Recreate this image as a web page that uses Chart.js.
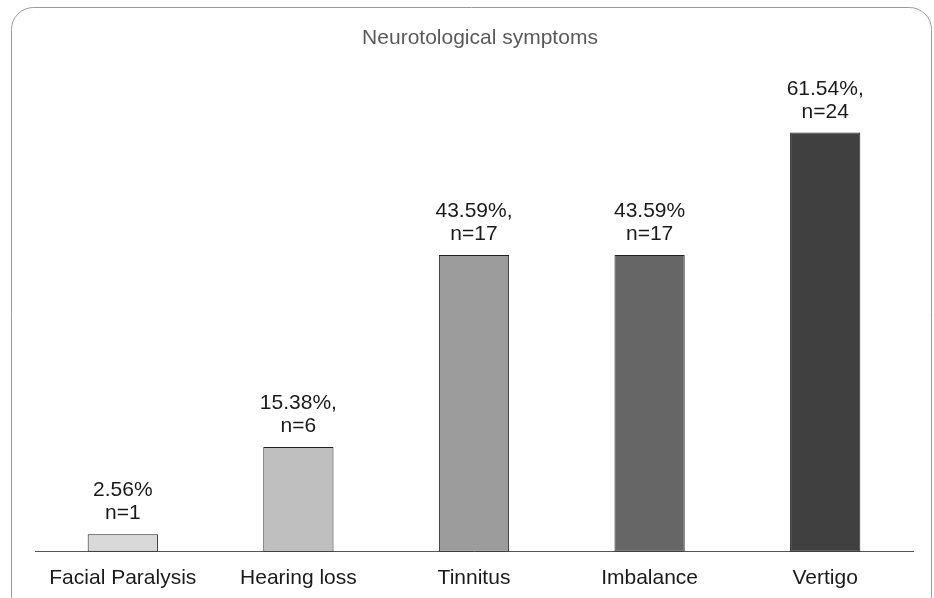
<!DOCTYPE html>
<html>
<head>
<meta charset="utf-8">
<script src="https://cdn.jsdelivr.net/npm/chart.js@4/dist/chart.umd.min.js"></script>
<style>
html,body{margin:0;padding:0;background:#fff;}
#wrap{width:934px;height:598px;position:relative;}
</style>
</head>
<body>
<div id="wrap"><canvas id="c" width="934" height="598"></canvas></div>
<script>
const chartTitle = "Neurotological symptoms";
const categories = ["Facial Paralysis", "Hearing loss", "Tinnitus", "Imbalance", "Vertigo"];
const percentages = [2.56, 15.38, 43.59, 43.59, 61.54];
const counts = [1, 6, 17, 17, 24];
const pctLabels = ["2.56%", "15.38%,", "43.59%,", "43.59%", "61.54%,"];
const barColors = ["#d9d9d9", "#bfbfbf", "#9c9c9c", "#666666", "#404040"];

const FONT = "'Liberation Sans', Arial, sans-serif";

const framePlugin = {
  id: 'frame',
  beforeDraw(chart) {
    const ctx = chart.ctx;
    ctx.save();
    ctx.strokeStyle = '#9a9a9a';
    ctx.lineWidth = 1;
    ctx.beginPath();
    ctx.roundRect(11.5, 7.5, 920, 610, 22);
    ctx.stroke();
    ctx.font = "21px " + FONT;
    ctx.fillStyle = '#5a5a5a';
    ctx.textAlign = 'center';
    ctx.textBaseline = 'alphabetic';
    ctx.fillText(chartTitle, 480, 44);
    ctx.restore();
  }
};

const labelPlugin = {
  id: 'barLabels',
  afterDatasetsDraw(chart) {
    const ctx = chart.ctx;
    const meta = chart.getDatasetMeta(0);
    ctx.save();
    ctx.font = "21px " + FONT;
    ctx.fillStyle = '#1a1a1a';
    ctx.textAlign = 'center';
    ctx.textBaseline = 'alphabetic';
    meta.data.forEach((bar, i) => {
      ctx.fillText(pctLabels[i], bar.x, bar.y - 38);
      ctx.fillText('n=' + counts[i], bar.x, bar.y - 15);
    });
    ctx.restore();
  }
};

new Chart(document.getElementById('c'), {
  type: 'bar',
  data: {
    labels: categories,
    datasets: [{
      data: percentages,
      backgroundColor: barColors,
      borderColor: '#222222',
      borderWidth: 1,
      borderSkipped: false,
      barPercentage: 0.4,
      categoryPercentage: 1.0
    }]
  },
  options: {
    responsive: false,
    animation: false,
    devicePixelRatio: 1,
    layout: { padding: { left: 35, right: 21, top: 75, bottom: -7 } },
    plugins: {
      legend: { display: false },
      tooltip: { enabled: false },
      title: { display: false }
    },
    scales: {
      x: {
        grid: { display: false, drawTicks: false },
        border: { display: true, color: '#555555', width: 1 },
        ticks: { color: '#1a1a1a', font: { family: FONT, size: 21 }, padding: 14, maxRotation: 0 }
      },
      y: {
        display: false,
        min: 0,
        max: 70
      }
    }
  },
  plugins: [framePlugin, labelPlugin]
});
</script>
</body>
</html>
